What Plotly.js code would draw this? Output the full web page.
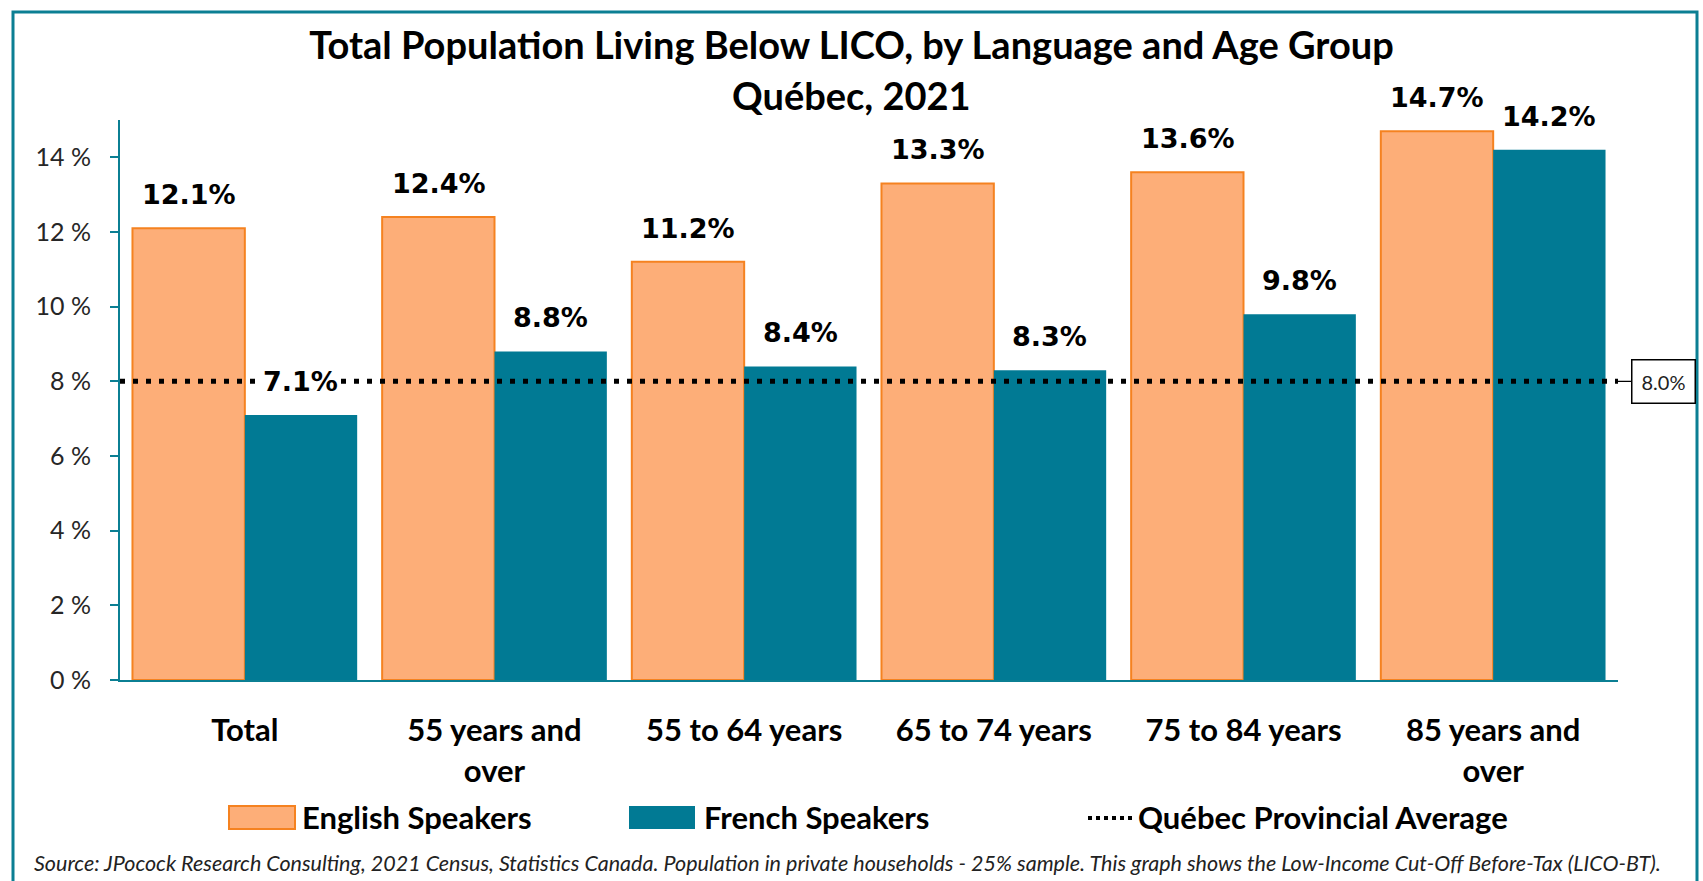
<!DOCTYPE html>
<html>
<head>
<meta charset="utf-8">
<script src="https://cdn.plot.ly/plotly-3.0.1.min.js"></script>
<style>
  html, body { margin: 0; padding: 0; background: #fff; }
  #chart { width: 1703px; height: 881px; }
</style>
</head>
<body>
<div id="chart"></div>
<script>
// Chart values
var categories = ['Total', '55 years and over', '55 to 64 years', '65 to 74 years', '75 to 84 years', '85 years and over'];
var tickLabels = ['Total', '55 years and<br>over', '55 to 64 years', '65 to 74 years', '75 to 84 years', '85 years and<br>over'];
var englishValues = [12.1, 12.4, 11.2, 13.3, 13.6, 14.7];
var frenchValues = [7.1, 8.8, 8.4, 8.3, 9.8, 14.2];
var provincialAverage = 8.0;

var orangeFill = '#fdae78';
var orangeLine = '#f58220';
var teal = '#017a94';
var frameColor = '#0b7f93';
var fontName = 'Lato, "Open Sans", sans-serif';
var labelFont = '"DejaVu Sans", Verdana, sans-serif';

// Plot area in pixels, used to place things outside the axes
var plotLeft = 120, plotRight = 1618, plotTop = 120, plotBottom = 680;
var W = 1703, H = 881;
function px(x) { return (x - plotLeft) / (plotRight - plotLeft); }
function py(y) { return (plotBottom - y) / (plotBottom - plotTop); }

var data = [
    {
        x: categories,
        y: englishValues,
        type: 'bar',
        name: 'English Speakers',
        marker: { color: orangeFill, line: { color: orangeLine, width: 2 } },
        hoverinfo: 'skip'
    },
    {
        x: categories,
        y: frenchValues,
        type: 'bar',
        name: 'French Speakers',
        marker: { color: teal, line: { color: teal, width: 0 } },
        hoverinfo: 'skip'
    },
    {
        // Provincial average runs across the whole plot width
        x: [0, 1],
        y: [provincialAverage, provincialAverage],
        xaxis: 'x2',
        yaxis: 'y',
        type: 'scatter',
        mode: 'lines',
        name: 'Québec Provincial Average',
        line: { color: '#000', width: 5, dash: '5px,8px' },
        hoverinfo: 'skip'
    }
];

var annotations = [];

// Value labels above each bar
for (let i = 0; i < categories.length; i++) {
    annotations.push({
        x: categories[i], y: englishValues[i], xref: 'x', yref: 'y',
        text: englishValues[i].toFixed(1) + '%',
        showarrow: false, xshift: -56, yshift: 16, yanchor: 'bottom',
        font: { family: labelFont, size: 27, color: '#000', weight: 'bold' }
    });
    // the label sitting on the average line gets a white backing
    var onLine = frenchValues[i] < provincialAverage && frenchValues[i] + 2.5 > provincialAverage;
    annotations.push({
        x: categories[i], y: frenchValues[i], xref: 'x', yref: 'y',
        text: frenchValues[i].toFixed(1) + '%',
        showarrow: false, xshift: 56, yshift: 16, yanchor: 'bottom',
        bgcolor: onLine ? '#fff' : 'rgba(255,255,255,0)',
        font: { family: labelFont, size: 27, color: '#000', weight: 'bold' }
    });
}

// Callout on the average line
annotations.push({
    x: 1, y: provincialAverage, xref: 'x2', yref: 'y',
    text: provincialAverage.toFixed(1) + '%',
    showarrow: true, arrowhead: 0, arrowwidth: 1.2, arrowcolor: '#000',
    ax: 45, ay: 0,
    bordercolor: '#000', borderwidth: 1.5, borderpad: 9, bgcolor: '#fff',
    font: { family: fontName, size: 20, color: '#222' }
});

// Second title line
annotations.push({
    x: px(W / 2), y: py(95), xref: 'paper', yref: 'paper',
    text: 'Québec, 2021', showarrow: false, yanchor: 'middle',
    font: { family: fontName, size: 38, color: '#000', weight: 'bold' }
});

// Legend built by hand to get the wide swatches
var legendY = py(817);
annotations.push({
    x: px(300), y: legendY, xref: 'paper', yref: 'paper', xanchor: 'left', yanchor: 'middle',
    text: 'English Speakers', showarrow: false,
    font: { family: fontName, size: 31, color: '#000', weight: 'bold' }
});
annotations.push({
    x: px(702), y: legendY, xref: 'paper', yref: 'paper', xanchor: 'left', yanchor: 'middle',
    text: 'French Speakers', showarrow: false,
    font: { family: fontName, size: 31, color: '#000', weight: 'bold' }
});
annotations.push({
    x: px(1136), y: legendY, xref: 'paper', yref: 'paper', xanchor: 'left', yanchor: 'middle',
    text: 'Québec Provincial Average', showarrow: false,
    font: { family: fontName, size: 31, color: '#000', weight: 'bold' }
});

// Source note
annotations.push({
    x: px(32), y: py(863), xref: 'paper', yref: 'paper', xanchor: 'left', yanchor: 'middle',
    text: 'Source: JPocock Research Consulting, 2021 Census, Statistics Canada. Population in private households - 25% sample. This graph shows the Low-Income Cut-Off Before-Tax (LICO-BT).',
    showarrow: false,
    font: { family: fontName, size: 21.5, color: '#222', style: 'italic' }
});

var shapes = [
    // outer frame
    { type: 'rect', xref: 'paper', yref: 'paper', x0: px(13), x1: px(1697), y0: py(895), y1: py(12),
      line: { color: frameColor, width: 3 }, fillcolor: 'rgba(0,0,0,0)', layer: 'below' },
    // legend swatches
    { type: 'rect', xref: 'paper', yref: 'paper', x0: px(229), x1: px(295), y0: py(829), y1: py(806),
      line: { color: orangeLine, width: 2 }, fillcolor: orangeFill },
    { type: 'rect', xref: 'paper', yref: 'paper', x0: px(629), x1: px(695), y0: py(829), y1: py(806),
      line: { color: teal, width: 0 }, fillcolor: teal },
    { type: 'line', xref: 'paper', yref: 'paper', x0: px(1088), x1: px(1134), y0: py(818), y1: py(818),
      line: { color: '#000', width: 4, dash: '4px,4px' } }
];

var layout = {
    width: W,
    height: H,
    paper_bgcolor: '#fff',
    plot_bgcolor: '#fff',
    margin: { l: plotLeft, r: W - plotRight, t: plotTop, b: H - plotBottom },
    showlegend: false,
    barmode: 'group',
    bargap: 0.1,
    bargroupgap: 0,
    title: {
        text: 'Total Population Living Below LICO, by Language and Age Group',
        x: 0.5, xanchor: 'center', y: 1 - 46 / H, yanchor: 'middle',
        font: { family: fontName, size: 38, color: '#000', weight: 'bold' }
    },
    xaxis: {
        type: 'category',
        tickvals: categories,
        ticktext: tickLabels,
        showline: true, linecolor: frameColor, linewidth: 2,
        ticks: '', ticklabelstandoff: 22,
        showgrid: false, zeroline: false,
        tickfont: { family: fontName, size: 31, color: '#000', weight: 'bold' }
    },
    xaxis2: {
        overlaying: 'x', range: [0, 1], visible: false, fixedrange: true
    },
    yaxis: {
        range: [0, 15], dtick: 2, tick0: 0,
        ticksuffix: ' %',
        showline: true, linecolor: frameColor, linewidth: 2,
        ticks: 'outside', ticklen: 8, tickcolor: frameColor, tickwidth: 2,
        ticklabelstandoff: 14,
        showgrid: false, zeroline: false,
        tickfont: { family: fontName, size: 25, color: '#262626' }
    },
    annotations: annotations,
    shapes: shapes
};

var config = { staticPlot: true, displayModeBar: false };

Plotly.newPlot('chart', data, layout, config);
</script>
</body>
</html>
